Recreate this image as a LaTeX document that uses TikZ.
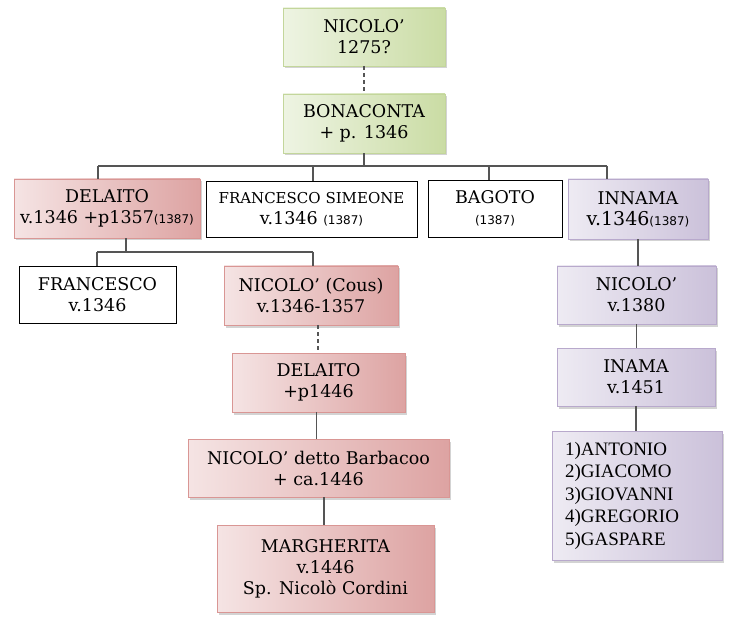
\documentclass[tikz,border=0pt]{standalone}
\usepackage{fontspec}
\setmainfont{DejaVu Serif}
\newfontfamily\smallsans{DejaVu Sans}
\newfontfamily\listfont{Liberation Serif}
\usetikzlibrary{shadows}
\definecolor{greenL}{HTML}{EEF4E3}
\definecolor{greenD}{HTML}{CADCA4}
\definecolor{greenB}{HTML}{C3D69B}
\definecolor{pinkL}{HTML}{F5E4E4}
\definecolor{pinkD}{HTML}{DDA3A2}
\definecolor{pinkB}{HTML}{D99694}
\definecolor{lilacL}{HTML}{EEEBF3}
\definecolor{lilacD}{HTML}{CBC1DA}
\definecolor{lilacB}{HTML}{B8A9CC}
\definecolor{linegray}{HTML}{555555}
\tikzset{
  fam/.style={rectangle, inner sep=0pt, align=center,
    font=\fontsize{17.5}{21}\selectfont},
  colbox/.style={fam, drop shadow={shadow xshift=2pt, shadow yshift=-2.5pt, opacity=0.35}},
  greenbox/.style={colbox, draw=greenB, line width=0.6pt, left color=greenL, right color=greenD},
  pinkbox/.style={colbox, draw=pinkB, line width=0.6pt, left color=pinkL, right color=pinkD},
  lilacbox/.style={colbox, draw=lilacB, line width=0.6pt, left color=lilacL, right color=lilacD},
  plainbox/.style={fam, draw=black, line width=0.8pt, fill=white},
  link/.style={draw=linegray, line width=1.5pt},
  dotlink/.style={link, dashed, dash pattern=on 4pt off 3pt}
}
\newcommand{\yr}[1]{{\smallsans\fontsize{12}{14}\selectfont#1}}
\begin{document}
\begin{tikzpicture}[x=1pt, y=-1pt]
  \useasboundingbox (0,0) rectangle (736,628);
  \path
    (364,37) node[greenbox, minimum width=162pt, minimum height=58pt] (nic) {NICOLO’\\1275?}
    (364,123.5) node[greenbox, minimum width=162pt, minimum height=59pt] (bona) {BONACONTA\\+ p. 1346}
    (107,208.5) node[pinkbox, minimum width=186pt, minimum height=59pt] (del) {DELAITO\\v.1346 +p1357\yr{(1387)}}
    (311.5,209) node[plainbox, minimum width=211pt, minimum height=56pt] (fsim) {{\fontsize{15}{20}\selectfont FRANCESCO SIMEONE}\\v.1346 \yr{(1387)}}
    (495,208.5) node[plainbox, minimum width=134pt, minimum height=57pt] (bag) {BAGOTO\\\yr{(1387)}}
    (638,209) node[lilacbox, minimum width=140pt, minimum height=60pt] (inn) {INNAMA\\{\fontsize{19}{21}\selectfont v.1346}\yr{(1387)}}
    (97.5,294.5) node[plainbox, minimum width=157pt, minimum height=57pt] (fran) {FRANCESCO\\v.1346}
    (311,295.5) node[pinkbox, minimum width=174pt, minimum height=59pt] (ncous) {NICOLO’ (Cous)\\v.1346-1357}
    (318.5,382.5) node[pinkbox, minimum width=173pt, minimum height=59pt] (delb) {DELAITO\\+p1446}
    (318.5,468) node[pinkbox, minimum width=261pt, minimum height=58pt] (barb) {NICOLO’ detto Barbacoo\\+ ca.1446}
    (325.5,568.5) node[pinkbox, minimum width=217pt, minimum height=87pt] (marg) {MARGHERITA\\v.1446\\Sp. Nicolò Cordini}
    (636.5,295) node[lilacbox, minimum width=159pt, minimum height=58pt] (nicb) {NICOLO’\\v.1380}
    (636,377) node[lilacbox, minimum width=158pt, minimum height=58pt] (inama) {INAMA\\v.1451}
    (637,495.5) node[lilacbox, minimum width=170pt, minimum height=129pt] (kids)
      {\begin{minipage}{144pt}\listfont\fontsize{19}{22.5}\selectfont
        1)ANTONIO\\2)GIACOMO\\3)GIOVANNI\\4)GREGORIO\\5)GASPARE\end{minipage}};
  \coordinate (barL) at (98,166);
  \coordinate (barF) at (313,166);
  \coordinate (barB) at (489,166);
  \coordinate (barR) at (607,166);
  \coordinate (subD) at (126,252);
  \coordinate (subL) at (97,252);
  \coordinate (subR) at (313,252);
  \begin{scope}[link]
    \draw (bona.south) -- (bona.south |- barL);
    \draw (barL) -- (barR);
    \draw (barL) -- (barL |- del.north);
    \draw (barF) -- (barF |- fsim.north);
    \draw (barB) -- (barB |- bag.north);
    \draw (barR) -- (barR |- inn.north);
    \draw (del.south -| subD) -- (subD);
    \draw (subL) -- (subR);
    \draw (subL) -- (subL |- fran.north);
    \draw (subR) -- (subR |- ncous.north);
    \draw ([xshift=-2pt]delb.south) -- ([xshift=-2pt]delb.south |- barb.north);
    \draw ([xshift=5.5pt]barb.south) -- ([xshift=5.5pt]barb.south |- marg.north);
    \draw (inn.south) -- (inn.south |- nicb.north);
    \draw (nicb.south) -- (nicb.south |- inama.north);
    \draw (inama.south) -- (inama.south |- kids.north);
  \end{scope}
  \begin{scope}[dotlink]
    \draw (nic.south) -- (bona.north);
    \draw ([xshift=7pt]ncous.south) -- ([xshift=7pt]ncous.south |- delb.north);
  \end{scope}
\end{tikzpicture}
\end{document}
